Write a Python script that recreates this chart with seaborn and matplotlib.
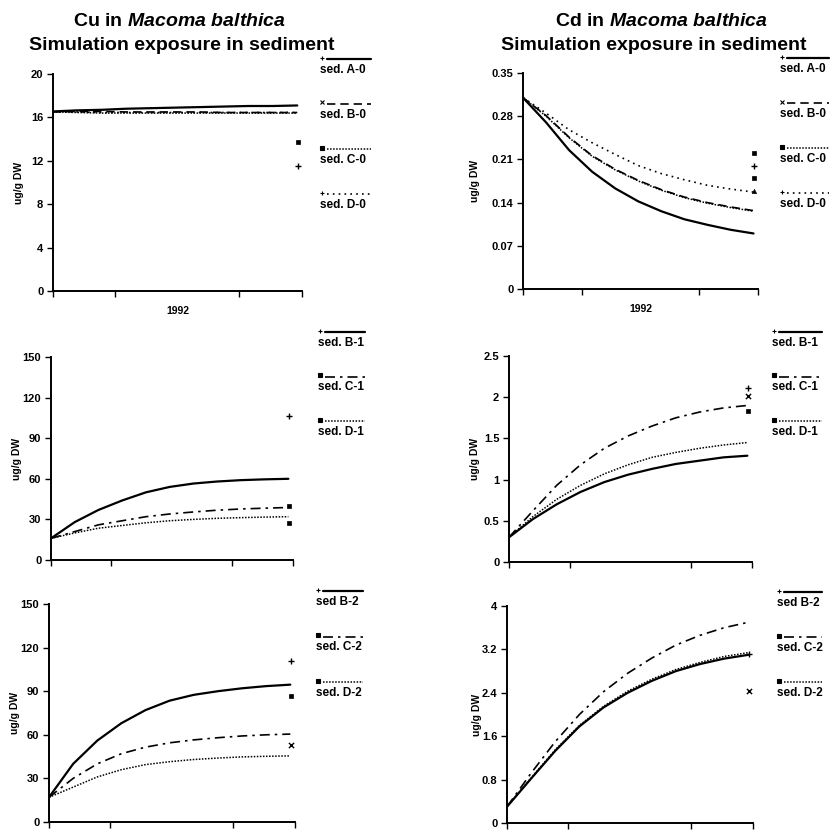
import matplotlib
matplotlib.use("Agg")
import matplotlib.pyplot as plt
from matplotlib.lines import Line2D
import seaborn as sns
import pandas as pd

# ---------------- data ----------------
days = [0, 36, 72, 108, 144, 180, 216, 252, 288, 324, 360]

# Cu, series 0
cu_A0 = [16.55, 16.65, 16.7, 16.8, 16.85, 16.9, 16.95, 17.0, 17.05, 17.05, 17.1]
cu_B0 = [16.5, 16.55, 16.55, 16.5, 16.5, 16.5, 16.5, 16.45, 16.45, 16.45, 16.45]
cu_C0 = [16.5, 16.45, 16.4, 16.4, 16.4, 16.4, 16.4, 16.4, 16.4, 16.4, 16.4]
cu_D0 = [16.5, 16.5, 16.45, 16.45, 16.45, 16.45, 16.45, 16.45, 16.45, 16.45, 16.45]
cu_obs0 = [13.7, 11.5]

# Cd, series 0
cd_A0 = [0.31, 0.27, 0.225, 0.19, 0.163, 0.142, 0.126, 0.113, 0.104, 0.096, 0.09]
cd_B0 = [0.31, 0.281, 0.246, 0.216, 0.194, 0.176, 0.161, 0.149, 0.14, 0.133, 0.127]
cd_C0 = [0.31, 0.28, 0.245, 0.215, 0.193, 0.175, 0.16, 0.148, 0.139, 0.132, 0.126]
cd_D0 = [0.31, 0.285, 0.258, 0.237, 0.218, 0.2, 0.187, 0.177, 0.168, 0.162, 0.157]
cd_obs0 = [0.22, 0.199, 0.18, 0.159]

# Cu, series 1
cu_B1 = [16, 28, 37, 44, 50, 54, 56.5, 58, 59, 59.6, 60]
cu_C1 = [16, 21, 26, 29, 32, 34, 35.5, 36.8, 37.7, 38.3, 38.8]
cu_D1 = [16, 20, 23.5, 25.5, 27.5, 29, 30, 30.8, 31.3, 31.7, 32]
cu_obs1 = [106.5, 40, 27.5]

# Cd, series 1
cd_B1 = [0.3, 0.52, 0.7, 0.85, 0.97, 1.06, 1.13, 1.19, 1.23, 1.27, 1.29]
cd_C1 = [0.3, 0.62, 0.93, 1.18, 1.38, 1.53, 1.65, 1.75, 1.82, 1.87, 1.9]
cd_D1 = [0.3, 0.55, 0.76, 0.93, 1.07, 1.18, 1.27, 1.33, 1.38, 1.42, 1.45]
cd_obs1 = [2.11, 2.01, 1.83]

# Cu, series 2
cu_B2 = [17, 40, 56, 68, 77, 83.5, 87.5, 90, 92, 93.5, 94.5]
cu_C2 = [17, 30, 40, 47, 51.5, 54.5, 56.5, 58, 59.2, 60, 60.5]
cu_D2 = [17, 24, 31, 36, 39.5, 41.5, 43, 44, 44.8, 45.2, 45.5]
cu_obs2 = [111, 87, 53]

# Cd, series 2
cd_B2 = [0.3, 0.82, 1.33, 1.78, 2.13, 2.4, 2.62, 2.8, 2.93, 3.03, 3.1]
cd_C2 = [0.3, 0.92, 1.5, 2.0, 2.42, 2.76, 3.04, 3.28, 3.46, 3.6, 3.7]
cd_D2 = [0.3, 0.83, 1.35, 1.8, 2.15, 2.43, 2.65, 2.83, 2.96, 3.07, 3.14]
cd_obs2 = [3.12, 2.43]

cu_ticks0 = [0, 4, 8, 12, 16, 20]
cd_ticks0 = [0, 0.07, 0.14, 0.21, 0.28, 0.35]
cu_ticks1 = [0, 30, 60, 90, 120, 150]
cd_ticks1 = [0, 0.5, 1, 1.5, 2, 2.5]
cu_ticks2 = [0, 30, 60, 90, 120, 150]
cd_ticks2 = [0, 0.8, 1.6, 2.4, 3.2, 4]
cd_ticklabels0 = ["0", "0.07", "0.14", "0.21", "0.28", "0.35"]
cd_ticklabels1 = ["0", "0.5", "1", "1.5", "2", "2.5"]
cd_ticklabels2 = ["0", "0.8", "1.6", "2.4", "3.2", "4"]

# ---------------- style ----------------
sns.set_theme(style="ticks")
plt.rcParams["font.family"] = ["Liberation Sans", "DejaVu Sans"]
plt.rcParams["mathtext.fontset"] = "custom"
plt.rcParams["mathtext.rm"] = "Liberation Sans:bold"
plt.rcParams["mathtext.it"] = "Liberation Sans:italic:bold"
for k in ("text.color", "axes.labelcolor", "xtick.color", "ytick.color", "axes.edgecolor"):
    plt.rcParams[k] = "black"

W, H = 831, 835
fig = plt.figure(figsize=(W / 100, H / 100), dpi=100)

def ax_px(left, right, top, bottom):
    return fig.add_axes([left / W, 1 - bottom / H, (right - left) / W, (bottom - top) / H])

STY = {
    "solid": dict(linestyle="-", linewidth=1.6),
    "dash": dict(linestyle=(0, (5, 3)), linewidth=1.2),
    "dashdot": dict(linestyle=(0, (6, 3, 1.5, 3)), linewidth=1.2),
    "dense": dict(linestyle=(0, (1, 1)), linewidth=1.1),
    "dot": dict(linestyle=(0, (1, 2.5)), linewidth=1.2),
}

XMAX = 367
OBS_X = 361

def panel(ax, series, obs, obs_markers, yticks, yticklabels, ylim, ylabel_cx, xlabel=None):
    for vals, sty in series:
        df = pd.DataFrame({"day": days, "v": vals})
        sns.lineplot(data=df, x="day", y="v", ax=ax, color="black", **STY[sty])
    for val, m in zip(obs, obs_markers):
        d = pd.DataFrame({"day": [OBS_X], "v": [val]})
        if m in ("+", "x"):
            sns.scatterplot(data=d, x="day", y="v", ax=ax, marker=m, s=14, color="black", linewidth=1.0)
        else:
            sns.scatterplot(data=d, x="day", y="v", ax=ax, marker=m, s=9, color="black", edgecolor="black", linewidth=0.5)
    ax.set_xlim(0, XMAX)
    ax.set_ylim(*ylim)
    ax.set_xticks([0, 91.5, 274.5, XMAX])
    ax.set_xticklabels([])
    ax.set_yticks(yticks)
    ax.set_yticklabels(yticklabels if yticklabels else [str(t) for t in yticks], fontsize=8, fontweight="bold")
    ax.tick_params(direction="out", length=4, width=1, colors="black", pad=3)
    for s in ("top", "right"):
        ax.spines[s].set_visible(False)
    for s in ("left", "bottom"):
        ax.spines[s].set_linewidth(1.4)
        ax.spines[s].set_color("black")
    ax.set_ylabel("ug/g DW", fontsize=7.5, fontweight="bold")
    bb = ax.get_position()
    left_px, width_px = bb.x0 * W, bb.width * W
    ax.yaxis.set_label_coords((ylabel_cx + 4.5 - left_px) / width_px, 0.5)
    if xlabel:
        ax.set_xlabel(xlabel, fontsize=7.5, fontweight="bold", labelpad=4)
    else:
        ax.set_xlabel("")

def legend_entry(x0, x1, y, label, sty, marker):
    fx0, fx1, fy = x0 / W, x1 / W, 1 - y / H
    fig.add_artist(Line2D([fx0 + 7 / W, fx1], [fy, fy], color="black",
                          transform=fig.transFigure, **STY[sty]))
    fig.add_artist(Line2D([fx0 + 2 / W], [fy + 1.5 / H], marker=marker, markersize=2.5, color="black",
                          markeredgewidth=0.8, linestyle="none", transform=fig.transFigure))
    fig.text(fx0, 1 - (y + 11) / H, label, fontsize=8.5, fontweight="bold", ha="left", va="center")

# ---------------- panels ----------------
a1 = ax_px(53, 302, 74, 291)
panel(a1, [(cu_A0, "solid"), (cu_B0, "dash"), (cu_C0, "dense"), (cu_D0, "dot")],
      cu_obs0, ["s", "+"], cu_ticks0, None, (0, 20), 20, "1992")

a2 = ax_px(523, 758, 73, 289)
panel(a2, [(cd_A0, "solid"), (cd_B0, "dash"), (cd_C0, "dense"), (cd_D0, "dot")],
      cd_obs0, ["s", "+", "s", "^"], cd_ticks0, cd_ticklabels0, (0, 0.35), 476, "1992")

a3 = ax_px(51, 293, 357, 560)
panel(a3, [(cu_B1, "solid"), (cu_C1, "dashdot"), (cu_D1, "dense")],
      cu_obs1, ["+", "s", "s"], cu_ticks1, None, (0, 150), 17)

a4 = ax_px(509, 752, 356, 562)
panel(a4, [(cd_B1, "solid"), (cd_C1, "dashdot"), (cd_D1, "dense")],
      cd_obs1, ["+", "x", "s"], cd_ticks1, cd_ticklabels1, (0, 2.5), 475)

a5 = ax_px(49, 295, 604, 822)
panel(a5, [(cu_B2, "solid"), (cu_C2, "dashdot"), (cu_D2, "dense")],
      cu_obs2, ["+", "s", "x"], cu_ticks2, None, (0, 150), 16)

a6 = ax_px(507, 753, 606, 823)
panel(a6, [(cd_B2, "solid"), (cd_C2, "dashdot"), (cd_D2, "dense")],
      cd_obs2, ["+", "x"], cd_ticks2, cd_ticklabels2, (0, 4), 477)

# ---------------- titles ----------------
TFS = 14
fig.text(180 / W, 1 - 22 / H, r"Cu in $\mathit{Macoma\ balthica}$", fontsize=TFS, fontweight="bold", ha="center", va="center")
fig.text(182 / W, 1 - 45 / H, "Simulation exposure in sediment", fontsize=TFS, fontweight="bold", ha="center", va="center")
fig.text(662 / W, 1 - 22 / H, r"Cd in $\mathit{Macoma\ balthica}$", fontsize=TFS, fontweight="bold", ha="center", va="center")
fig.text(654 / W, 1 - 45 / H, "Simulation exposure in sediment", fontsize=TFS, fontweight="bold", ha="center", va="center")

# ---------------- legends ----------------
leg0_labels = ["sed. A-0", "sed. B-0", "sed. C-0", "sed. D-0"]
leg0_styles = ["solid", "dash", "dense", "dot"]
leg0_markers = ["+", "x", "s", "+"]
leg12_styles = ["solid", "dashdot", "dense"]
leg12_markers = ["+", "s", "s"]
leg1_labels = ["sed. B-1", "sed. C-1", "sed. D-1"]
leg2_labels = ["sed B-2", "sed. C-2", "sed. D-2"]

for i in range(4):
    legend_entry(320, 371, 59 + 45 * i, leg0_labels[i], leg0_styles[i], leg0_markers[i])
    legend_entry(780, 829, 58 + 45 * i, leg0_labels[i], leg0_styles[i], leg0_markers[i])
for i in range(3):
    legend_entry(318, 365, 332 + 44.5 * i, leg1_labels[i], leg12_styles[i], leg12_markers[i])
    legend_entry(772, 822, 332 + 44.5 * i, leg1_labels[i], leg12_styles[i], leg12_markers[i])
    legend_entry(316, 363, 591 + 45.5 * i, leg2_labels[i], leg12_styles[i], leg12_markers[i])
    legend_entry(777, 822, 592 + 45 * i, leg2_labels[i], leg12_styles[i], leg12_markers[i])

fig.savefig("out.png", dpi=100, facecolor="white")
